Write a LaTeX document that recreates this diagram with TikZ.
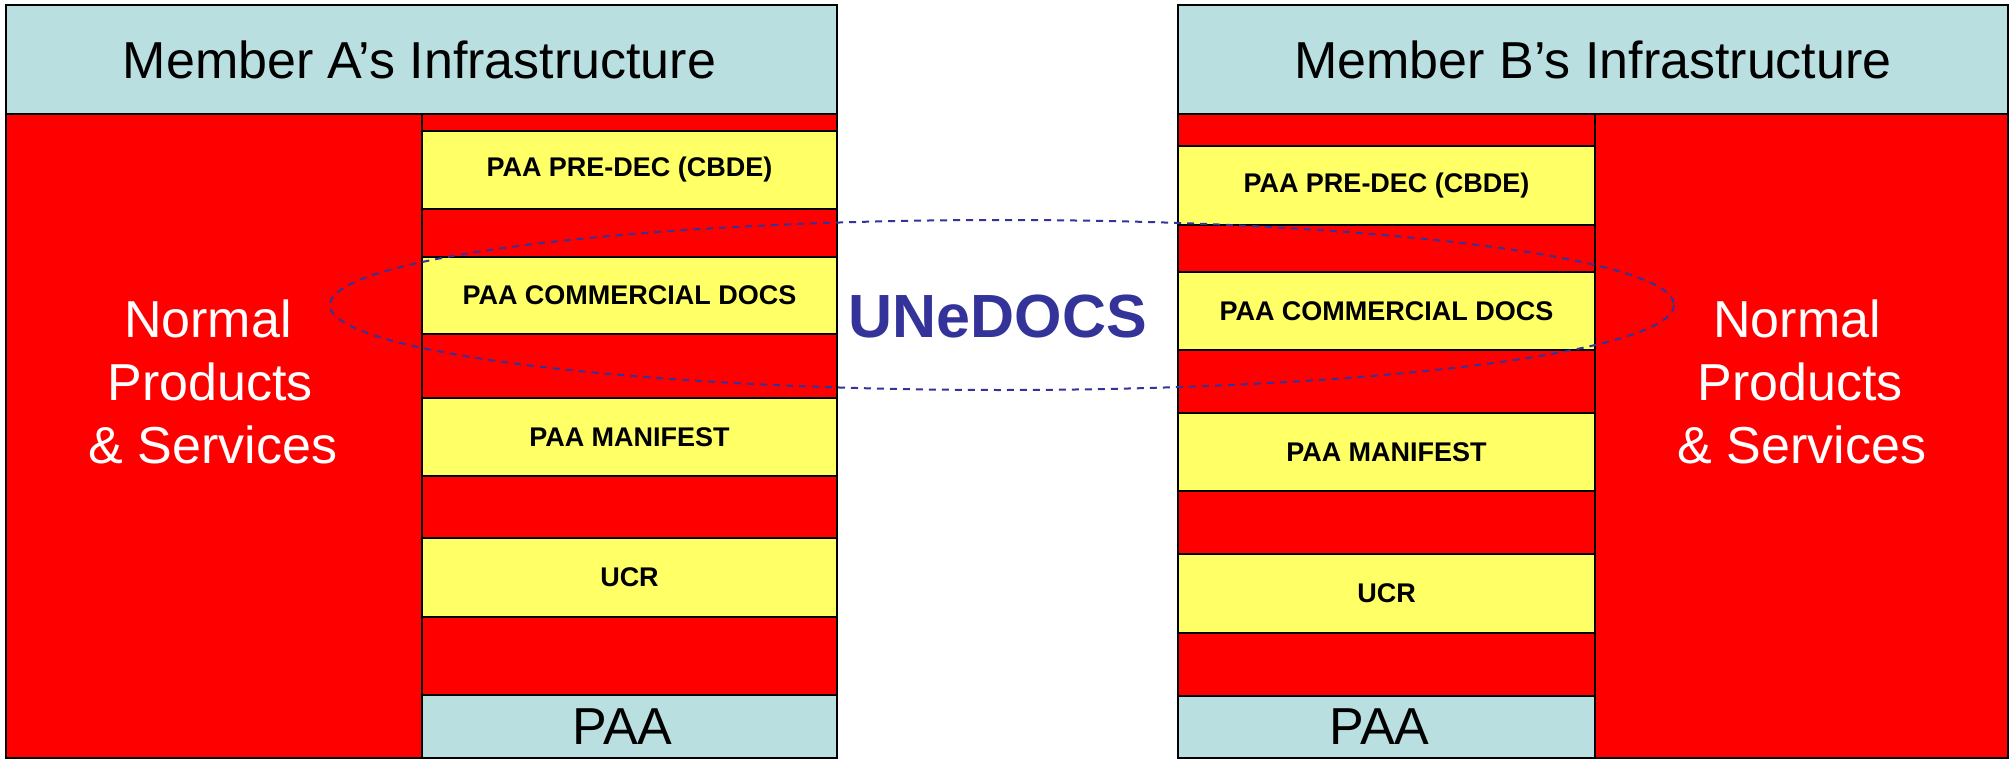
\documentclass[tikz,border=0pt]{standalone}
\usepackage{fontspec}
\setmainfont{Liberation Sans}
\definecolor{hdrblue}{RGB}{185,223,225}
\definecolor{stripered}{RGB}{255,0,0}
\definecolor{stripeyel}{RGB}{255,255,102}
\definecolor{unblue}{RGB}{51,51,153}
\tikzset{
  box/.style={draw=black, line width=2pt, inner sep=0pt, anchor=north west},
  redbox/.style={box, fill=stripered},
  yelbox/.style={box, fill=stripeyel, font=\fontsize{27}{32}\selectfont\bfseries},
  bluebox/.style={box, fill=hdrblue, font=\fontsize{52}{60}\selectfont},
  whitetxt/.style={text=white, font=\fontsize{52}{60}\selectfont, inner sep=0pt, anchor=base},
}
\begin{document}
\begin{tikzpicture}[x=1pt,y=-1pt]
\useasboundingbox (0,0) rectangle (2011,760);
% ---- Member A
\node[bluebox, minimum width=831, minimum height=109] (ahead) at (5,4) {Member A’s Infrastructure\hspace*{4pt}};
\node[redbox, minimum width=416, minimum height=644] (ared) at (5,113) {};
\node[redbox, minimum width=415, minimum height=17] (a1) at (421,113) {};
\node[yelbox, minimum width=415, minimum height=78] (a2) at (421,130) {PAA PRE-DEC (CBDE)};
\node[redbox, minimum width=415, minimum height=48] (a3) at (421,208) {};
\node[yelbox, minimum width=415, minimum height=77] (a4) at (421,256) {PAA COMMERCIAL DOCS};
\node[redbox, minimum width=415, minimum height=64] (a5) at (421,333) {};
\node[yelbox, minimum width=415, minimum height=78] (a6) at (421,397) {PAA MANIFEST};
\node[redbox, minimum width=415, minimum height=62] (a7) at (421,475) {};
\node[yelbox, minimum width=415, minimum height=79] (a8) at (421,537) {UCR};
\node[redbox, minimum width=415, minimum height=78] (a9) at (421,616) {};
\node[bluebox, minimum width=415, minimum height=63] (apaa) at (421,694) {PAA\hspace*{14pt}};
\node[whitetxt] (an1) at (208,337) {Normal};
\node[whitetxt] (an2) at (210,400) {Products};
\node[whitetxt] (an3) at (213,463) {\&\ Services};
% ---- Member B
\node[bluebox, minimum width=830, minimum height=109] (bhead) at (1177,4) {Member B’s Infrastructure};
\node[redbox, minimum width=413, minimum height=644] (bred) at (1594,113) {};
\node[redbox, minimum width=417, minimum height=32] (b1) at (1177,113) {};
\node[yelbox, minimum width=417, minimum height=79] (b2) at (1177,145) {PAA PRE-DEC (CBDE)};
\node[redbox, minimum width=417, minimum height=47] (b3) at (1177,224) {};
\node[yelbox, minimum width=417, minimum height=78] (b4) at (1177,271) {PAA COMMERCIAL DOCS};
\node[redbox, minimum width=417, minimum height=63] (b5) at (1177,349) {};
\node[yelbox, minimum width=417, minimum height=78] (b6) at (1177,412) {PAA MANIFEST};
\node[redbox, minimum width=417, minimum height=63] (b7) at (1177,490) {};
\node[yelbox, minimum width=417, minimum height=79] (b8) at (1177,553) {UCR};
\node[redbox, minimum width=417, minimum height=63] (b9) at (1177,632) {};
\node[bluebox, minimum width=417, minimum height=62] (bpaa) at (1177,695) {PAA\hspace*{14pt}};
\node[whitetxt] (bn1) at (1797,337) {Normal};
\node[whitetxt] (bn2) at (1800,400) {Products};
\node[whitetxt] (bn3) at (1802,463) {\&\ Services};
% ---- UNeDOCS ellipse
\coordinate (ec) at (1002,305);
\draw[unblue, line width=2pt, dash pattern=on 7pt off 6pt] (ec) ellipse [x radius=672, y radius=85];
\node[text=unblue, font=\fontsize{61}{70}\selectfont\bfseries, inner sep=0pt, anchor=base] (un) at (998,337) {UNeDOCS};
\end{tikzpicture}
\end{document}
